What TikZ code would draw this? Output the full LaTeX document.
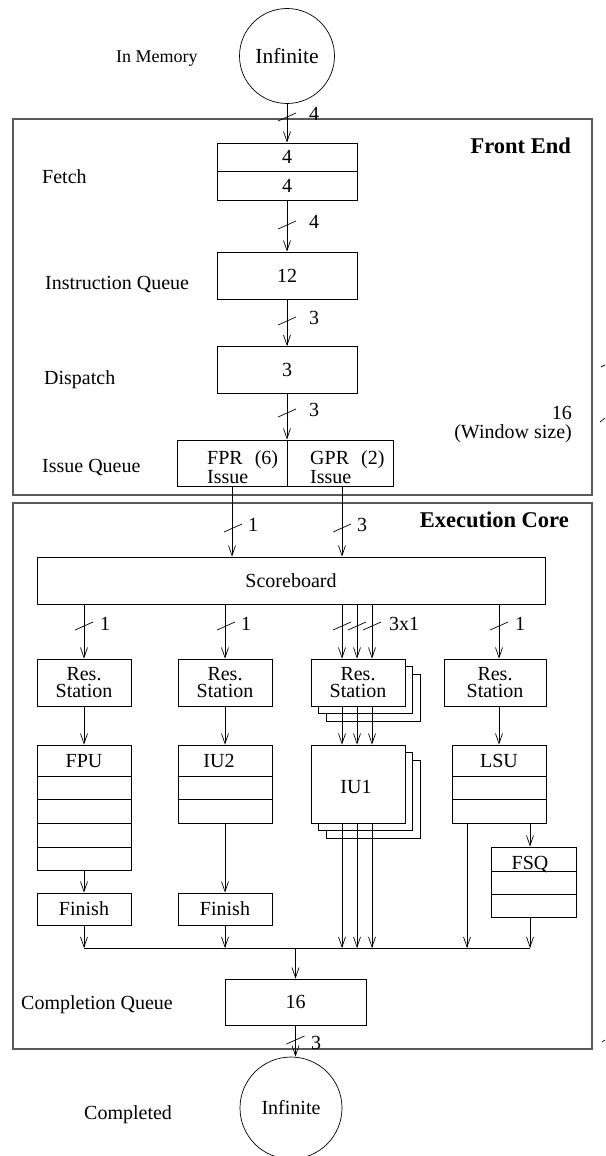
\documentclass[tikz,border=0pt]{standalone}
\usepackage{fontspec}
\setmainfont{Liberation Serif}
\usetikzlibrary{arrows.meta,calc}
\begin{document}
\begin{tikzpicture}[x=1pt,y=-1pt,
  every node/.style={font=\fontsize{20}{17}\selectfont, inner sep=0pt},
  box/.style={draw, line width=0.8pt, fill=white, inner sep=0pt},
  frame/.style={draw=black!65, line width=1.3pt},
  arr/.style={draw, line width=0.7pt, -{Straight Barb[length=10pt,width=7pt,line width=0.7pt]}},
  ln/.style={draw, line width=0.7pt},
  lbl/.style={anchor=west},
  head/.style={font=\bfseries\fontsize{22.5}{24}\selectfont, anchor=east},
  side/.style={anchor=west},
]
\useasboundingbox (0,0) rectangle (605,1156);

% frames
\node[frame, minimum width=579, minimum height=376] (fe) at (302.5,307) {};
\node[frame, minimum width=579, minimum height=546] (ec) at (302.5,776) {};
\node[head] (feT) at (571,146) {Front End};
\node[head] (ecT) at (569,520) {Execution Core};

% memory in / out
\node[draw, circle, line width=0.7pt, minimum size=95, font=\fontsize{21.5}{22}\selectfont] (mem) at (287,56) {Infinite};
\node[side, font=\fontsize{18}{20}\selectfont] (memT) at (116,59) {In Memory};
\node[draw, circle, line width=0.7pt, minimum size=102] (done) at (291,1108) {Infinite};
\node[side] (doneT) at (84,1115) {Completed};

% front end
\node[box, minimum width=140, minimum height=57] (fetch) at (287,171.5) {};
\draw[ln] (fetch.west) -- (fetch.east);
\node (f1) at (287,157) {4};
\node (f2) at (287,186) {4};
\node[side] (fetchT) at (42,177) {Fetch};

\node[box, minimum width=140, minimum height=47] (iq) at (287,275.5) {12};
\node[side] (iqT) at (45,284) {Instruction Queue};

\node[box, minimum width=140, minimum height=47] (disp) at (287,370) {3};
\node[side] (dispT) at (44,380) {Dispatch};

\node[box, minimum width=110, minimum height=46] (issF) at (232,463) {};
\node[box, minimum width=106, minimum height=46] (issG) at (340,463) {};
\node[anchor=west, align=left] (fprT) at (207,467) {FPR\hspace{0.6em}(6)\\Issue};
\node[anchor=west, align=left] (gprT) at (310,467) {GPR\hspace{0.6em}(2)\\Issue};
\node[side] (issT) at (42,467) {Issue Queue};

\node[anchor=east] (winN) at (572,413) {16};
\node[anchor=east] (winT) at (572,434) {(Window size)};

% execution core
\node[box, minimum width=508, minimum height=47] (sb) at (291,580.5) {Scoreboard};

\node[box, minimum width=94, minimum height=47, align=center] (rs1) at (84,682.5) {Res.\\Station};
\node[box, minimum width=94, minimum height=47, align=center] (rs2) at (225,682.5) {Res.\\Station};
\node[box, minimum width=94, minimum height=47] (rs3c) at (373,697.5) {};
\node[box, minimum width=94, minimum height=47] (rs3b) at (365.5,690) {};
\node[box, minimum width=94, minimum height=47, align=center] (rs3) at (358,682.5) {Res.\\Station};
\node[box, minimum width=102, minimum height=47, align=center] (rs4) at (495,682.5) {Res.\\Station};

\node[box, minimum width=94, minimum height=125] (fpu) at (84,807.5) {};
\foreach \yy in {776,799,823,847} \draw[ln] (fpu.west |- 0,\yy) -- (fpu.east |- 0,\yy);
\node (fpuT) at (84,761) {FPU};

\node[box, minimum width=94, minimum height=78] (iu2) at (225,784) {};
\foreach \yy in {776,799} \draw[ln] (iu2.west |- 0,\yy) -- (iu2.east |- 0,\yy);
\node (iu2T) at (219,761) {IU2};

\node[box, minimum width=94, minimum height=78] (iu1c) at (373,799) {};
\node[box, minimum width=94, minimum height=78] (iu1b) at (365.5,791.5) {};
\node[box, minimum width=94, minimum height=78] (iu1) at (358,784) {};
\node (iu1T) at (356,787) {IU1};

\node[box, minimum width=94, minimum height=78] (lsu) at (499,784) {};
\foreach \yy in {776,799} \draw[ln] (lsu.west |- 0,\yy) -- (lsu.east |- 0,\yy);
\node (lsuT) at (499,761) {LSU};

\node[box, minimum width=85, minimum height=70] (fsq) at (533.5,882) {};
\foreach \yy in {871,894} \draw[ln] (fsq.west |- 0,\yy) -- (fsq.east |- 0,\yy);
\node (fsqT) at (530,864) {FSQ};

\node[box, minimum width=94, minimum height=32] (fin1) at (84,909) {Finish};
\node[box, minimum width=94, minimum height=32] (fin2) at (225,909) {Finish};

\node[box, minimum width=141, minimum height=46] (cq) at (295.5,1002) {16};
\node[side] (cqT) at (21,1005) {Completion Queue};

\coordinate (busL) at (84,948);
\coordinate (busR) at (530,948);

% connectors: front end
\draw[arr] (mem.south) -- (mem.south |- fetch.north);
\draw[arr] (fetch.south) -- (iq.north);
\draw[arr] (iq.south) -- (disp.north);
\draw[arr] (disp.south) -- (disp.south |- issF.north);
\draw[arr] (issF.south) -- (issF.south |- sb.north);
\draw[arr] ($(issG.south)+(2,0)$) -- ($(issG.south |- sb.north)+(2,0)$);

% scoreboard to reservation stations
\draw[arr] (sb.south -| rs1.north) -- (rs1.north);
\draw[arr] (sb.south -| rs2.north) -- (rs2.north);
\foreach \dx in {-16,-1,14}
  \draw[arr] ($(sb.south -| rs3.north)+(\dx,0)$) -- ($(rs3.north)+(\dx,0)$);
\draw[arr] (sb.south -| lsu.north) -- (rs4.north -| lsu.north);

% reservation stations to units
\draw[arr] (rs1.south) -- (fpu.north);
\draw[arr] (rs2.south) -- (iu2.north);
\foreach \dx in {-16,-1,14}
  \draw[arr] ($(rs3.south)+(\dx,0)$) -- ($(iu1.north)+(\dx,0)$);
\draw[arr] (rs4.south -| lsu.north) -- (lsu.north);

% units to finish / bus
\draw[arr] (fpu.south) -- (fin1.north);
\draw[arr] (iu2.south) -- (fin2.north);
\draw[arr] (fin1.south) -- (fin1.south |- busL);
\draw[arr] (fin2.south) -- (fin2.south |- busL);
\foreach \dx in {-16,-1,14}
  \draw[arr] ($(iu1.south)+(\dx,0)$) -- ($(iu1.south |- busL)+(\dx,0)$);
\draw[arr] ($(lsu.south)+(-32,0)$) -- ($(lsu.south |- busL)+(-32,0)$);
\draw[arr] ($(lsu.south)+(31,0)$) -- ($(fsq.north -| lsu.south)+(31,0)$);
\draw[arr] ($(fsq.south)+(-3.5,0)$) -- ($(fsq.south |- busL)+(-3.5,0)$);
\draw[ln] (busL) -- (busR);
\draw[arr] (cq.north |- busL) -- (cq.north);
\draw[arr] (cq.south) -- (cq.south |- done.north);

% width marks
\foreach \px/\py in {287/117, 287/225, 287/321, 287/413, 233/528, 342/528,
  84/626, 226/626, 342/626, 357/626, 372/626, 499/626, 295.5/1040}
  \draw[ln] (\px,\py) ++(-9,4) -- ++(18,-8);
\node[lbl] (w1) at (309,114) {4};
\node[lbl] (w2) at (309,222) {4};
\node[lbl] (w3) at (309,318) {3};
\node[lbl] (w4) at (309,410) {3};
\node[lbl] (w5) at (248,525) {1};
\node[lbl] (w6) at (357,525) {3};
\node[lbl] (w7) at (100,624) {1};
\node[lbl] (w8) at (241,624) {1};
\node[lbl] (w9) at (389,624) {3x1};
\node[lbl] (w10) at (515,624) {1};
\node[lbl] (w11) at (311,1043) {3};

% cut-off strokes at right edge
\draw[ln] (601,367) -- (605,365);
\draw[ln] (600,422) -- (605,418);
\draw[ln] (602,1042) -- (605,1040);
\end{tikzpicture}
\end{document}
